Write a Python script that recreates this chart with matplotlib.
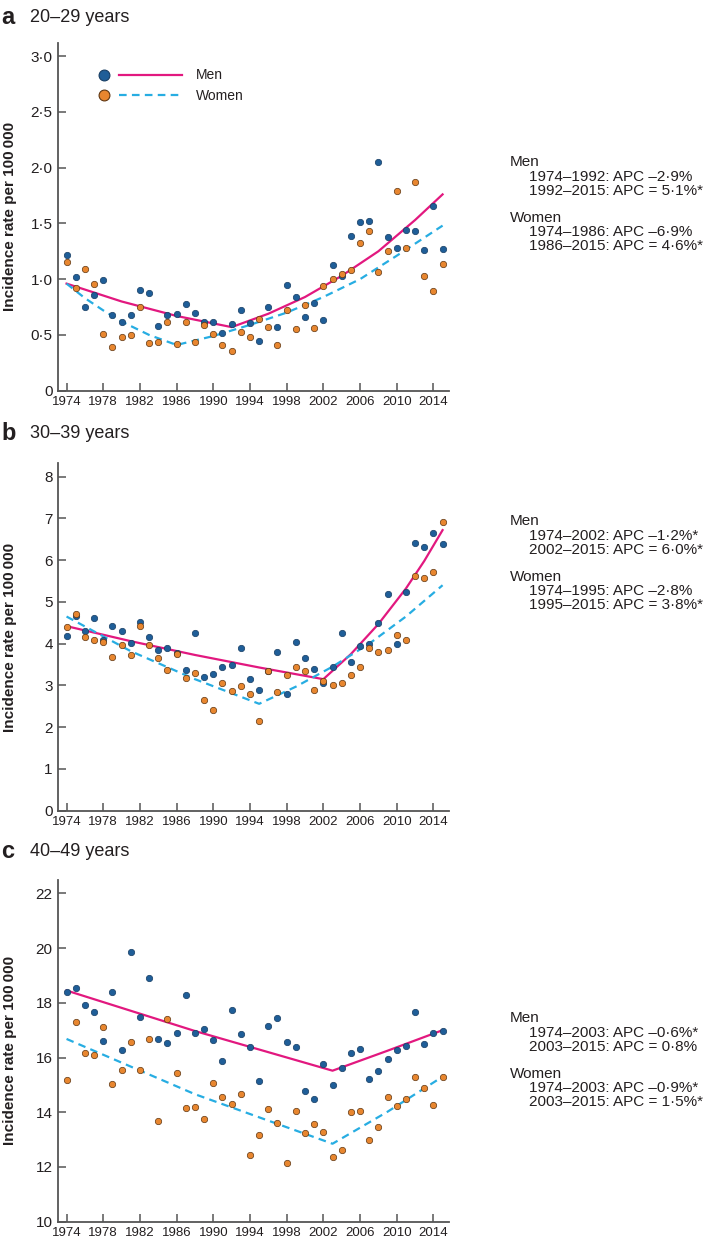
import numpy as np
import matplotlib
matplotlib.use('Agg')
import matplotlib.pyplot as plt
from matplotlib.lines import Line2D

plt.rcParams['font.family'] = ['Liberation Sans', 'DejaVu Sans']
plt.rcParams['lines.scale_dashes'] = False

years = np.arange(1974, 2016)

# panel a, 20-29 years
men_a = [1.22, 1.02, 0.75, 0.86, 0.99, 0.68, 0.62, 0.68, 0.90, 0.88, 0.58, 0.68, 0.69, 0.78,
         0.70, 0.62, 0.62, 0.52, 0.60, 0.72, 0.61, 0.45, 0.75, 0.57, 0.95, 0.84, 0.66, 0.79,
         0.63, 1.13, 1.03, 1.39, 1.51, 1.52, 2.05, 1.38, 1.28, 1.44, 1.43, 1.26, 1.66, 1.27]
women_a = [1.15, 0.92, 1.09, 0.96, 0.51, 0.39, 0.48, 0.50, 0.75, 0.43, 0.44, 0.62, 0.42, 0.62,
           0.44, 0.59, 0.51, 0.41, 0.36, 0.53, 0.48, 0.64, 0.57, 0.41, 0.72, 0.55, 0.77, 0.56,
           0.94, 1.00, 1.05, 1.08, 1.32, 1.43, 1.06, 1.25, 1.79, 1.28, 1.87, 1.03, 0.89, 1.14]
fit_men_a_x = [1974, 1980, 1986, 1992, 1996, 2000, 2004, 2008, 2012, 2015]
fit_men_a_y = [0.96, 0.80, 0.67, 0.57, 0.69, 0.84, 1.03, 1.25, 1.53, 1.76]
fit_women_a_x = [1974, 1976, 1978, 1980, 1983, 1986, 1990, 1994, 1998, 2002, 2006, 2010, 2015]
fit_women_a_y = [0.96, 0.83, 0.72, 0.62, 0.50, 0.41, 0.49, 0.59, 0.70, 0.84, 1.00, 1.21, 1.48]

# panel b, 30-39 years
men_b = [4.19, 4.66, 4.31, 4.61, 4.08, 4.42, 4.31, 4.01, 4.51, 4.15, 3.84, 3.90, 3.78, 3.38,
         4.26, 3.21, 3.27, 3.43, 3.49, 3.90, 3.15, 2.89, 3.35, 3.80, 2.80, 4.05, 3.65, 3.40,
         3.05, 3.45, 4.25, 3.55, 3.95, 4.00, 4.50, 5.18, 4.00, 5.23, 6.41, 6.31, 6.64, 6.38]
women_b = [4.40, 4.70, 4.17, 4.08, 4.05, 3.68, 3.98, 3.74, 4.42, 3.97, 3.66, 3.38, 3.75, 3.19,
           3.30, 2.66, 2.41, 3.05, 2.86, 2.98, 2.79, 2.14, 3.35, 2.85, 3.25, 3.45, 3.35, 2.90,
           3.10, 3.00, 3.05, 3.25, 3.45, 3.90, 3.80, 3.85, 4.20, 4.10, 5.63, 5.58, 5.71, 6.91]
fit_men_b_x = [1974, 1981, 1988, 1995, 2002, 2005, 2008, 2011, 2013, 2015]
fit_men_b_y = [4.42, 4.06, 3.73, 3.43, 3.15, 3.75, 4.47, 5.32, 5.98, 6.72]
fit_women_b_x = [1974, 1981, 1988, 1995, 1999, 2003, 2007, 2011, 2015]
fit_women_b_y = [4.65, 3.82, 3.15, 2.56, 2.97, 3.45, 4.00, 4.65, 5.40]

# panel c, 40-49 years
men_c = [18.40, 18.53, 17.92, 17.66, 16.62, 18.39, 16.26, 19.84, 17.47, 18.90, 16.67, 16.55,
         16.89, 18.30, 16.90, 17.06, 16.64, 15.88, 17.72, 16.85, 16.40, 15.15, 17.15, 17.45,
         16.56, 16.39, 14.76, 14.47, 15.75, 15.01, 15.61, 16.15, 16.33, 15.20, 15.52, 15.94,
         16.28, 16.41, 17.66, 16.51, 16.88, 16.97]
women_c = [15.19, 17.31, 16.16, 16.10, 17.10, 15.03, 15.53, 16.57, 15.54, 16.69, 13.67, 17.40,
           15.45, 14.17, 14.20, 13.74, 15.08, 14.57, 14.32, 14.65, 12.44, 13.17, 14.12, 13.61,
           12.16, 14.06, 13.24, 13.58, 13.27, 12.38, 12.63, 14.00, 14.06, 12.99, 13.47, 14.56,
           14.23, 14.50, 15.28, 14.88, 14.27, 15.28]
fit_men_c_x = [1974, 1988, 2003, 2009, 2015]
fit_men_c_y = [18.45, 16.97, 15.52, 16.25, 17.00]
fit_women_c_x = [1974, 1988, 2003, 2009, 2015]
fit_women_c_y = [16.68, 14.66, 12.85, 14.02, 15.30]

letters = ['a', 'b', 'c']
titles = ['20\u201329 years', '30\u201339 years', '40\u201349 years']
yticks = [[0, 0.5, 1.0, 1.5, 2.0, 2.5, 3.0], list(range(0, 9)), list(range(10, 23, 2))]
yticklabels = [['0', '0\u00b75', '1\u00b70', '1\u00b75', '2\u00b70', '2\u00b75', '3\u00b70'],
               [str(v) for v in range(0, 9)], [str(v) for v in range(10, 23, 2)]]
ylims = [(0, 3.12), (0, 8.32), (10, 22.49)]
xticks = list(range(1974, 2015, 4))

notes = [
    ['Men', '1974\u20131992: APC \u20132\u00b79%', '1992\u20132015: APC = 5\u00b71%*',
     'Women', '1974\u20131986: APC \u20136\u00b79%', '1986\u20132015: APC = 4\u00b76%*'],
    ['Men', '1974\u20132002: APC \u20131\u00b72%*', '2002\u20132015: APC = 6\u00b70%*',
     'Women', '1974\u20131995: APC \u20132\u00b78%', '1995\u20132015: APC = 3\u00b78%*'],
    ['Men', '1974\u20132003: APC \u20130\u00b76%*', '2003\u20132015: APC = 0\u00b78%',
     'Women', '1974\u20132003: APC \u20130\u00b79%*', '2003\u20132015: APC = 1\u00b75%*'],
]

men_pts = [men_a, men_b, men_c]
women_pts = [women_a, women_b, women_c]
men_fit = [(fit_men_a_x, fit_men_a_y), (fit_men_b_x, fit_men_b_y), (fit_men_c_x, fit_men_c_y)]
women_fit = [(fit_women_a_x, fit_women_a_y), (fit_women_b_x, fit_women_b_y),
             (fit_women_c_x, fit_women_c_y)]

PINK = '#e2187f'
CYAN = '#27ade2'
BLUE = '#1f5e98'
BLUE_E = '#173d63'
ORANGE = '#e8862f'
ORANGE_E = '#5e3612'
TXT = '#231f20'
AX = '#555555'

W, H = 709, 1241
fig = plt.figure(figsize=(W / 100, H / 100), dpi=100)

# pixel boxes (top, bottom) of each plot area
boxes = [(42.7, 390.7), (463.3, 810.7), (880.0, 1221.7)]
title_y = [17, 433, 852]
note_y = [162, 521, 1018]
note_dy = [0, 15, 29, 55.6, 70, 84.5]


class DotLine:
    def legend_artist(self, legend, orig_handle, fontsize, handlebox):
        dot, line = orig_handle
        x0, y0 = handlebox.xdescent, handlebox.ydescent
        w, h = handlebox.width, handlebox.height
        tr = handlebox.get_transform()
        d = Line2D([x0 + 0.055 * w], [y0 + h / 2], ls='none', marker='o', ms=7.8,
                   mfc=dot.get_markerfacecolor(), mec=dot.get_markeredgecolor(), mew=0.8,
                   transform=tr)
        l = Line2D([x0 + 0.24 * w, x0 + w], [y0 + h / 2, y0 + h / 2])
        l.update_from(line)
        l.set_transform(tr)
        handlebox.add_artist(l)
        handlebox.add_artist(d)
        return l


for i in range(3):
    top, bottom = boxes[i]
    ax = fig.add_axes([58.3 / W, 1 - bottom / H, (449 - 58.3) / W, (bottom - top) / H])

    ml, = ax.plot(*men_fit[i], color=PINK, lw=1.6, zorder=2)
    wl, = ax.plot(*women_fit[i], color=CYAN, lw=1.6, dashes=(5.5, 3.8), zorder=2)
    md, = ax.plot(years, men_pts[i], ls='none', marker='o', ms=4.6, mfc=BLUE, mec=BLUE_E,
                  mew=0.5, zorder=3)
    wd, = ax.plot(years, women_pts[i], ls='none', marker='o', ms=4.6, mfc=ORANGE,
                  mec=ORANGE_E, mew=0.5, zorder=4)

    ax.set_xlim(1973.1, 2015.7)
    ax.set_ylim(*ylims[i])
    ax.set_xticks(xticks)
    ax.set_xticklabels([str(x) for x in xticks], fontsize=9.5, color=TXT)
    ax.set_yticks(yticks[i])
    ax.set_yticklabels(yticklabels[i], fontsize=11, color=TXT)
    ax.tick_params(direction='in', length=5.8, width=1.1, color=AX)
    ax.tick_params(axis='x', pad=4)
    ax.tick_params(axis='y', pad=4)
    for s in ['top', 'right']:
        ax.spines[s].set_visible(False)
    for s in ['left', 'bottom']:
        ax.spines[s].set_color(AX)
        ax.spines[s].set_linewidth(1.3)
    ax.set_ylabel('Incidence rate per 100\u2009000', fontsize=11, fontweight='bold', color=TXT)
    ax.yaxis.set_label_coords(-0.106, 0.5)

    if i == 0:
        ax.legend([(md, ml), (wd, wl)], ['Men', 'Women'], handler_map={tuple: DotLine()},
                  loc='upper left', bbox_to_anchor=(0.104, 0.926), frameon=False,
                  fontsize=10, handlelength=6.0, handletextpad=1.0, labelspacing=0.45,
                  borderpad=0, borderaxespad=0, labelcolor=TXT)

    fig.text(1 / W, 1 - title_y[i] / H, letters[i], fontsize=17, fontweight='bold',
             color=TXT, va='center', ha='left')
    fig.text(30 / W, 1 - title_y[i] / H, titles[i], fontsize=13, color=TXT,
             va='center', ha='left')

    for j, line in enumerate(notes[i]):
        x = 510 if j in (0, 3) else 529
        fig.text(x / W, 1 - (note_y[i] + note_dy[j]) / H, line, fontsize=11, color=TXT,
                 va='center', ha='left')

fig.savefig('out.png', dpi=100)
